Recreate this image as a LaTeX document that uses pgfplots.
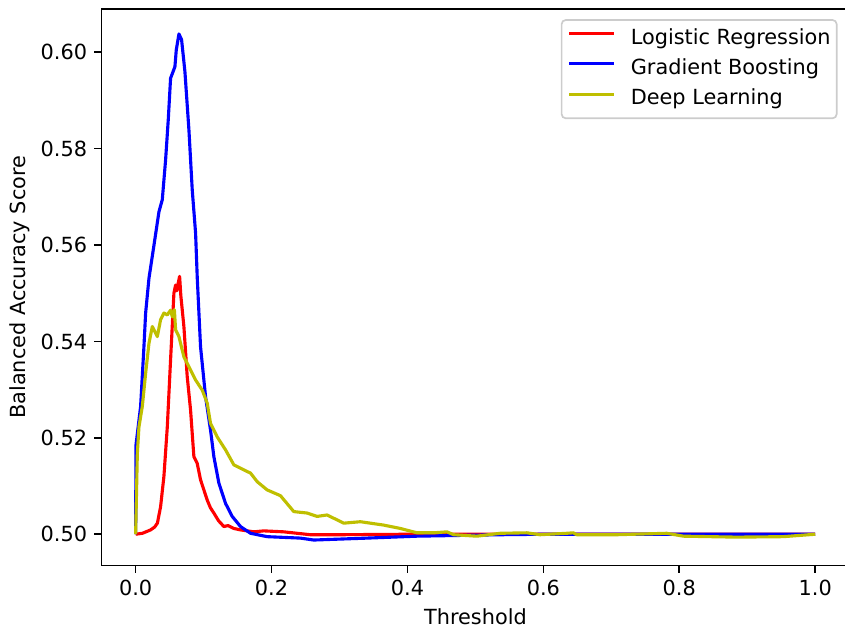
\documentclass[border=0pt]{standalone}
\usepackage{fontspec}
\setmainfont{DejaVu Sans}
\usepackage{pgfplots}
\pgfplotsset{compat=1.18}
\definecolor{mplyellow}{rgb}{0.75,0.75,0}
\begin{document}
\begin{tikzpicture}
\begin{axis}[
  scale only axis,
  width=358.8pt, height=267.2pt,
  xmin=-0.05, xmax=1.05,
  ymin=0.49349, ymax=0.60898,
  xtick={0,0.2,0.4,0.6,0.8,1.0},
  ytick={0.50,0.52,0.54,0.56,0.58,0.60},
  scaled ticks=false,
  tick pos=left,
  tick align=outside,
  major tick length=3.5pt,
  every tick/.style={black, line width=0.8pt},
  axis line style={line width=0.8pt},
  /pgf/number format/assume math mode=true,
  xticklabel style={/pgf/number format/.cd, fixed, fixed zerofill, precision=1},
  yticklabel style={/pgf/number format/.cd, fixed, fixed zerofill, precision=2},
  tick label style={font=\fontsize{10}{12}\selectfont},
  xlabel={Threshold},
  ylabel={Balanced Accuracy Score},
  label style={font=\fontsize{10}{12}\selectfont},
  xlabel style={at={(axis description cs:0.5,-0.0921)}, anchor=center},
  ylabel style={at={(axis description cs:-0.1093,0.5)}, anchor=center},
  legend cell align=left,
  legend style={at={(1,1)}, anchor=north east, xshift=-5.6pt, yshift=-4.9pt,
    draw=black!20, fill=white, fill opacity=0.8, text opacity=1,
    rounded corners=2pt, line width=0.8pt,
    inner xsep=2.9pt, inner ysep=4pt, row sep=4.6pt,
    font=\fontsize{10}{12}\selectfont,
    nodes={inner sep=0pt, text height=7.6pt, text depth=2.4pt},
    /tikz/every odd column/.append style={column sep=7.2pt}},
  legend image code/.code={\draw[#1] (0pt,2.6pt) -- (21.6pt,2.6pt);},
]
\addplot[red, line width=1.5pt, line join=round] coordinates {
(0,0.5) (0.010,0.5002) (0.022,0.5009) (0.028,0.5015) (0.032,0.5023) (0.0367,0.5057)
(0.0416,0.5120) (0.0466,0.5223) (0.0514,0.5362) (0.0563,0.5500) (0.0588,0.5517)
(0.0605,0.5505) (0.0625,0.5520) (0.0647,0.5535) (0.0665,0.5495) (0.071,0.5431)
(0.0759,0.5327) (0.0808,0.5258) (0.0857,0.5161) (0.0906,0.5147) (0.0955,0.5113)
(0.1053,0.5071) (0.110,0.5055) (0.1151,0.5044) (0.122,0.5028) (0.1298,0.5016)
(0.1360,0.5018) (0.1445,0.5012) (0.1543,0.5009) (0.1739,0.5005) (0.1886,0.5007)
(0.218,0.5005) (0.2572,0.4999) (0.30,0.4999) (0.4,0.5) (0.5,0.5) (1,0.5)
};
\addlegendentry{Logistic Regression}
\addplot[blue, line width=1.5pt, line join=round] coordinates {
(0,0.5) (0.0005,0.5185) (0.0073,0.5265) (0.0122,0.5389) (0.0147,0.5459) (0.0196,0.5531)
(0.027,0.5600) (0.0343,0.5669) (0.0392,0.5694) (0.0441,0.5777) (0.048,0.5860)
(0.0514,0.5946) (0.0578,0.5970) (0.0598,0.6005) (0.0637,0.6038) (0.0676,0.6026)
(0.0725,0.5960) (0.0784,0.5839) (0.0833,0.5714) (0.0882,0.5625) (0.0907,0.5531)
(0.0955,0.5389) (0.1029,0.5285) (0.1102,0.5216) (0.1151,0.5161) (0.1225,0.5106)
(0.1323,0.5064) (0.1421,0.5037) (0.1543,0.5016) (0.169,0.5002) (0.1935,0.4995)
(0.2425,0.4992) (0.262,0.4988) (0.3406,0.4992) (0.414,0.4996) (0.5365,0.4999)
(0.6,0.5) (1,0.5)
};
\addlegendentry{Gradient Boosting}
\addplot[mplyellow, line width=1.5pt, line join=round] coordinates {
(0,0.5) (0.0025,0.5168) (0.0049,0.5223) (0.0098,0.5265) (0.0147,0.5334) (0.0196,0.5396)
(0.0245,0.5431) (0.0294,0.5417) (0.0319,0.5410) (0.0367,0.5445) (0.0416,0.5459)
(0.0466,0.5455) (0.0514,0.5465) (0.054,0.5451) (0.057,0.5466) (0.0588,0.5424) (0.0637,0.5410)
(0.071,0.5368) (0.0808,0.5341) (0.0882,0.5320) (0.098,0.5299) (0.1053,0.5272)
(0.1102,0.5230) (0.12,0.5202) (0.1323,0.5175) (0.1445,0.5144) (0.1642,0.5130)
(0.169,0.5127) (0.1789,0.5109) (0.1935,0.5092) (0.2131,0.5080) (0.2327,0.5047)
(0.2523,0.5044) (0.267,0.5037) (0.2817,0.5040) (0.3062,0.5023) (0.3307,0.5026)
(0.365,0.5019) (0.3895,0.5012) (0.414,0.5003) (0.4385,0.5003) (0.4582,0.5005)
(0.4679,0.4999) (0.502,0.4996) (0.5365,0.5002) (0.5758,0.5003) (0.595,0.4999)
(0.6346,0.5002) (0.644,0.5003) (0.649,0.4999) (0.708,0.4999) (0.7815,0.5002)
(0.806,0.4996) (0.8845,0.4994) (0.953,0.4995) (1.0,0.5)
};
\addlegendentry{Deep Learning}
\end{axis}
\pgfresetboundingbox
\useasboundingbox (-48.8pt,-30.4pt) rectangle (356.8pt,271.5pt);
\end{tikzpicture}
\end{document}
